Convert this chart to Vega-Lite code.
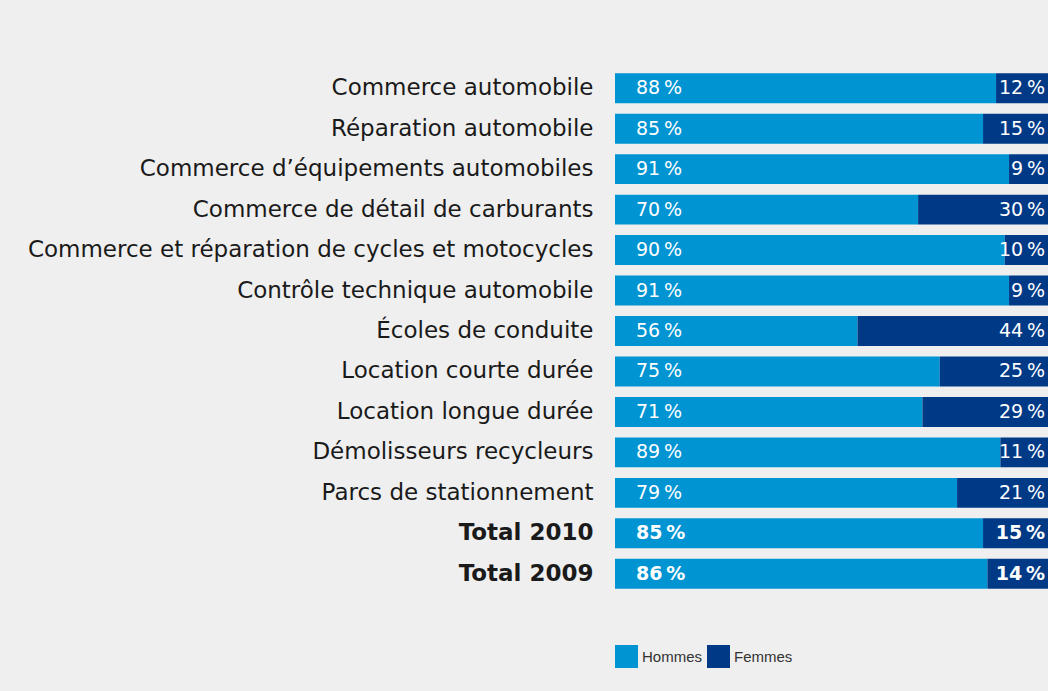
{
  "$schema": "https://vega.github.io/schema/vega-lite/v6.json",
  "width": 1048,
  "height": 691,
  "autosize": {"type": "fit", "contains": "padding"},
  "padding": {"left": 15, "right": 0, "top": 68, "bottom": 23},
  "background": "#efefef",
  "data": {
    "values": [
      {"secteur": "Commerce automobile", "sexe": "Hommes", "part": 88},
      {"secteur": "Commerce automobile", "sexe": "Femmes", "part": 12},
      {"secteur": "Réparation automobile", "sexe": "Hommes", "part": 85},
      {"secteur": "Réparation automobile", "sexe": "Femmes", "part": 15},
      {"secteur": "Commerce d’équipements automobiles", "sexe": "Hommes", "part": 91},
      {"secteur": "Commerce d’équipements automobiles", "sexe": "Femmes", "part": 9},
      {"secteur": "Commerce de détail de carburants", "sexe": "Hommes", "part": 70},
      {"secteur": "Commerce de détail de carburants", "sexe": "Femmes", "part": 30},
      {"secteur": "Commerce et réparation de cycles et motocycles", "sexe": "Hommes", "part": 90},
      {"secteur": "Commerce et réparation de cycles et motocycles", "sexe": "Femmes", "part": 10},
      {"secteur": "Contrôle technique automobile", "sexe": "Hommes", "part": 91},
      {"secteur": "Contrôle technique automobile", "sexe": "Femmes", "part": 9},
      {"secteur": "Écoles de conduite", "sexe": "Hommes", "part": 56},
      {"secteur": "Écoles de conduite", "sexe": "Femmes", "part": 44},
      {"secteur": "Location courte durée", "sexe": "Hommes", "part": 75},
      {"secteur": "Location courte durée", "sexe": "Femmes", "part": 25},
      {"secteur": "Location longue durée", "sexe": "Hommes", "part": 71},
      {"secteur": "Location longue durée", "sexe": "Femmes", "part": 29},
      {"secteur": "Démolisseurs recycleurs", "sexe": "Hommes", "part": 89},
      {"secteur": "Démolisseurs recycleurs", "sexe": "Femmes", "part": 11},
      {"secteur": "Parcs de stationnement", "sexe": "Hommes", "part": 79},
      {"secteur": "Parcs de stationnement", "sexe": "Femmes", "part": 21},
      {"secteur": "Total 2010", "sexe": "Hommes", "part": 85},
      {"secteur": "Total 2010", "sexe": "Femmes", "part": 15},
      {"secteur": "Total 2009", "sexe": "Hommes", "part": 86},
      {"secteur": "Total 2009", "sexe": "Femmes", "part": 14}
    ]
  },
  "transform": [
    {"calculate": "indexof(['Hommes','Femmes'], datum.sexe)", "as": "rang"},
    {"calculate": "datum.part + '\u2009%'", "as": "etiquette"},
    {"calculate": "indexof(datum.secteur, 'Total') === 0", "as": "total"}
  ],
  "encoding": {
    "y": {
      "field": "secteur",
      "type": "nominal",
      "sort": null,
      "scale": {"paddingInner": 0.26, "paddingOuter": 0.13},
      "axis": {
        "title": null,
        "domain": false,
        "ticks": false,
        "labelPadding": 22,
        "minExtent": 600,
        "maxExtent": 600,
        "labelFont": "DejaVu Sans",
        "labelFontSize": 23,
        "labelColor": "#1a1a1a",
        "labelLimit": 700,
        "labelFontWeight": {"condition": {"test": "indexof(datum.value, 'Total') === 0", "value": "bold"}, "value": "normal"}
      }
    }
  },
  "layer": [
    {
      "mark": {"type": "bar"},
      "encoding": {
        "x": {"field": "part", "type": "quantitative", "stack": "zero", "scale": {"domain": [0, 100], "nice": false}, "axis": null},
        "order": {"field": "rang", "type": "quantitative"},
        "color": {
          "field": "sexe",
          "type": "nominal",
          "scale": {"domain": ["Hommes", "Femmes"], "range": ["#0094d2", "#003a87"]},
          "legend": {
            "title": null,
            "orient": "bottom",
            "direction": "horizontal",
            "offset": 51,
            "symbolType": "square",
            "symbolSize": 529,
            "symbolStrokeWidth": 0,
            "symbolOpacity": 1,
            "labelFont": "Liberation Sans",
            "labelFontSize": 15,
            "labelColor": "#333333",
            "labelOffset": 4,
            "columnPadding": 4,
            "padding": 0
          }
        }
      }
    },
    {
      "transform": [{"filter": "datum.sexe === 'Hommes' && !datum.total"}],
      "mark": {"type": "text", "align": "left", "baseline": "middle", "dx": 21, "font": "DejaVu Sans", "fontSize": 19, "color": "white"},
      "encoding": {"x": {"datum": 0, "type": "quantitative"}, "text": {"field": "etiquette"}}
    },
    {
      "transform": [{"filter": "datum.sexe === 'Femmes' && !datum.total"}],
      "mark": {"type": "text", "align": "right", "baseline": "middle", "dx": -3, "font": "DejaVu Sans", "fontSize": 19, "color": "white"},
      "encoding": {"x": {"datum": 100, "type": "quantitative"}, "text": {"field": "etiquette"}}
    },
    {
      "transform": [{"filter": "datum.sexe === 'Hommes' && datum.total"}],
      "mark": {"type": "text", "align": "left", "baseline": "middle", "dx": 21, "font": "DejaVu Sans", "fontSize": 19, "fontWeight": "bold", "color": "white"},
      "encoding": {"x": {"datum": 0, "type": "quantitative"}, "text": {"field": "etiquette"}}
    },
    {
      "transform": [{"filter": "datum.sexe === 'Femmes' && datum.total"}],
      "mark": {"type": "text", "align": "right", "baseline": "middle", "dx": -3, "font": "DejaVu Sans", "fontSize": 19, "fontWeight": "bold", "color": "white"},
      "encoding": {"x": {"datum": 100, "type": "quantitative"}, "text": {"field": "etiquette"}}
    }
  ],
  "config": {"view": {"stroke": null}}
}
